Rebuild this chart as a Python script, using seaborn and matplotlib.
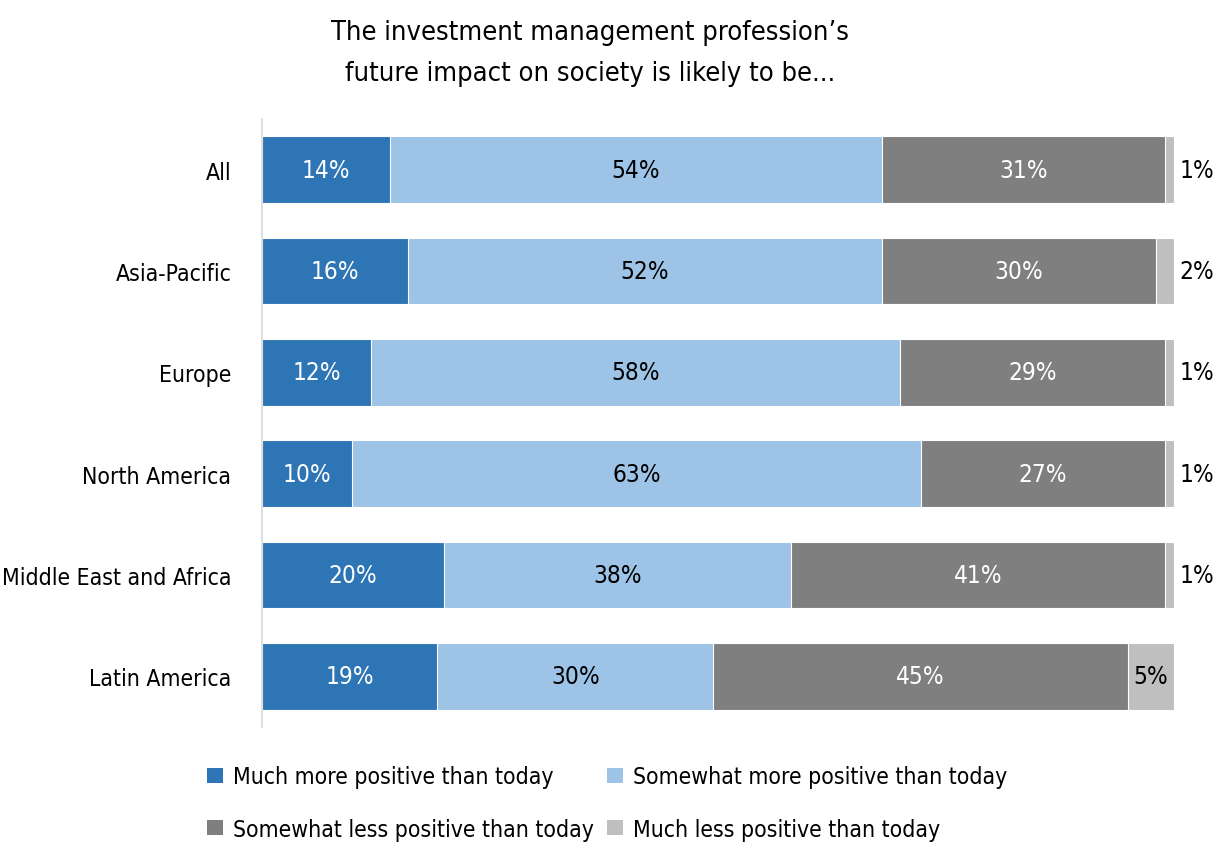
import numpy as np
import pandas as pd
import matplotlib
matplotlib.use("Agg")
import matplotlib.pyplot as plt
import seaborn as sns
from matplotlib.patches import Patch

# --- data ---
regions = ["All", "Asia-Pacific", "Europe", "North America",
           "Middle East and Africa", "Latin America"]
much_more = [14, 16, 12, 10, 20, 19]
somewhat_more = [54, 52, 58, 63, 38, 30]
somewhat_less = [31, 30, 29, 27, 41, 45]
much_less = [1, 2, 1, 1, 1, 5]
series_names = ["Much more positive than today", "Somewhat more positive than today",
                "Somewhat less positive than today", "Much less positive than today"]
colors = ["#2E75B6", "#9DC3E6", "#7F7F7F", "#BFBFBF"]
text_colors = ["white", "black", "white", "black"]
title = "The investment management profession\u2019s\nfuture impact on society is likely to be..."

sns.set_theme(style="white")
plt.rcParams["font.family"] = ["DejaVu Sans"]
plt.rcParams["font.stretch"] = "condensed"
plt.rcParams["text.color"] = "black"
plt.rcParams["ytick.color"] = "black"

df = pd.DataFrame({"region": regions, series_names[0]: much_more,
                   series_names[1]: somewhat_more, series_names[2]: somewhat_less,
                   series_names[3]: much_less})
vals = df[series_names].to_numpy(dtype=float)
vals = vals / vals.sum(axis=1, keepdims=True) * 100  # bars all end at 100%
cum = np.cumsum(vals, axis=1)

fig = plt.figure(figsize=(12.22, 8.45), dpi=100)
ax = fig.add_axes([0.2144, 0.1385, 0.7463, 0.7195])

# draw cumulative bars back to front so each segment shows
for i in range(3, -1, -1):
    plot_df = pd.DataFrame({"region": regions, "end": cum[:, i]})
    sns.barplot(data=plot_df, y="region", x="end", color=colors[i], orient="h",
                width=0.66, edgecolor="white", linewidth=0.8, saturation=1, ax=ax)

for r in range(len(regions)):
    for i in range(4):
        raw = df[series_names[i]].iloc[r]
        start = cum[r, i] - vals[r, i]
        if i == 3 and raw < 3:
            ax.text(100.6, r, f"{raw}%", ha="left", va="center", fontsize=17.5, color="black")
        else:
            ax.text(start + vals[r, i] / 2, r, f"{raw}%", ha="center", va="center",
                    fontsize=17.5, color=text_colors[i])

ax.set_xlim(0, 100)
ax.set_ylim(5.5, -0.5)
ax.set_xlabel("")
ax.set_ylabel("")
ax.set_xticks([])
ax.tick_params(axis="y", labelsize=16.5, length=0, pad=22)
for s in ["top", "right", "bottom"]:
    ax.spines[s].set_visible(False)
ax.spines["left"].set_color("#D9D9D9")
ax.spines["left"].set_linewidth(1.2)

fig.text(0.483, 0.976, title, ha="center", va="top", fontsize=19.5, linespacing=1.76)

# legend filled row by row like the reference
order = [0, 2, 1, 3]
handles = [Patch(facecolor=colors[k], edgecolor="none") for k in order]
labels = [series_names[k] for k in order]
fig.legend(handles, labels, loc="upper left", bbox_to_anchor=(0.1694, 0.093),
           ncol=2, frameon=False, fontsize=16.5, handlelength=0.68, handleheight=0.68,
           handletextpad=0.44, columnspacing=0.6, labelspacing=1.27, borderpad=0,
           borderaxespad=0)

fig.savefig("out.png", dpi=100)
